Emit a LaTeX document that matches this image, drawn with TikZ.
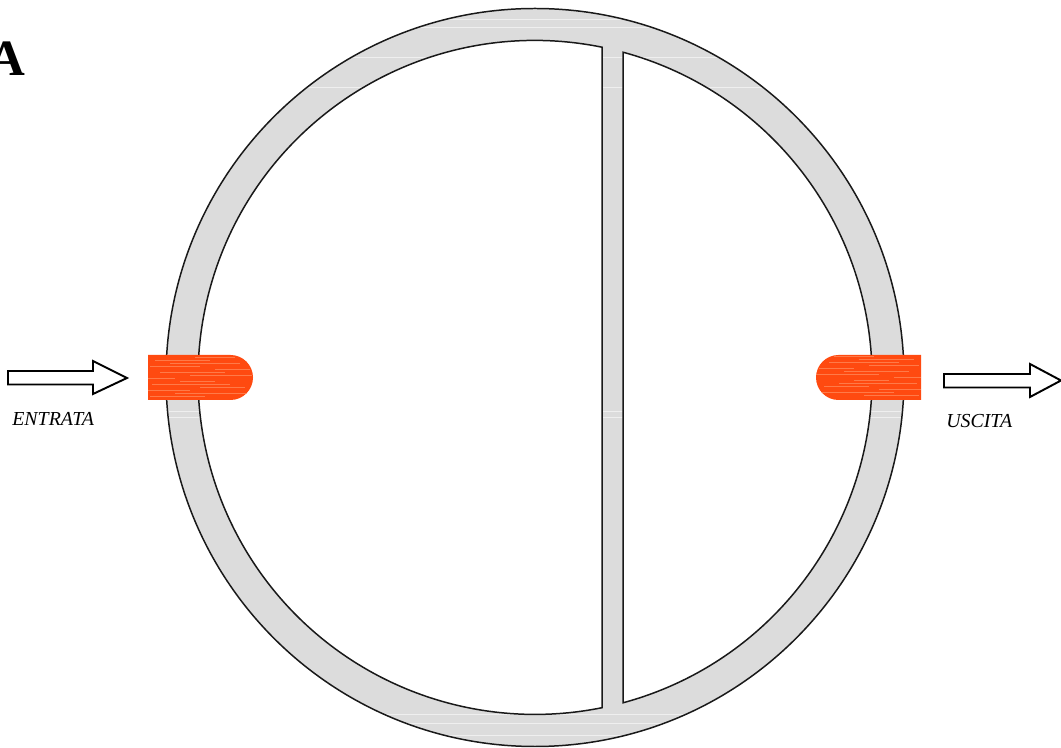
\documentclass[tikz,border=0pt]{standalone}
\usepackage{fontspec}
\setmainfont{Liberation Serif}
\definecolor{ringgray}{HTML}{DCDCDC}
\definecolor{plugorange}{HTML}{FF4A10}
\definecolor{plugstreak}{HTML}{FF7A48}
\tikzset{
  outline/.style={draw=black!90, line width=0.85pt},
  flowarrow/.style={draw=black, line width=1.1pt, fill=white, line join=miter},
  caption/.style={font=\fontsize{11.3}{13}\selectfont\itshape, inner sep=0pt, anchor=base west},
}
\newcommand{\plugstreaks}{%
  \foreach \ypos/\xa/\xb in {351/150/205,354/175/250,357/148/190,360/200/245,363/152/230,366/180/215,369/148/175,
      372/190/252,375/160/225,378/215/250,381/150/200,384/170/240,387/155/210,390/195/235}
    {\draw[plugstreak, line width=0.4pt] (\xa,\ypos) -- (\xb,\ypos);
     \draw[plugstreak, line width=0.4pt] (1069-\xb,\ypos+1) -- (1069-\xa,\ypos+1);}}
\begin{document}
\begin{tikzpicture}[x=0.02cm, y=0.02cm]
    \useasboundingbox (0,0) rectangle (1061,747);

    % --- the ring, with its faint brushed texture ---
    \fill[ringgray] (535,369.5) circle[radius=369];
    \begin{scope}
      \clip (535,369.5) circle[radius=369];
      \foreach \ypos in {12,24,33,330,336,660,690,720,728}
        \draw[white!55!ringgray, line width=0.5pt] (150,\ypos) -- (920,\ypos);
    \end{scope}
    \draw[outline] (535,369.5) circle[radius=369];

    % --- the two chambers either side of the divider ---
    \draw[outline, fill=white] (602,699.8)
      arc[start angle=78.53, end angle=281.47, radius=337] -- cycle;
    \draw[outline, fill=white] (623,44.2)
      arc[start angle=-74.86, end angle=74.86, radius=337] -- cycle;

    % --- orange plugs on the ring ---
    \begin{scope}
      \clip (148,392) -- (230.5,392) arc[start angle=90, end angle=-90, radius=22.5]
        -- (148,347) -- cycle
        (921,392) -- (838.5,392) arc[start angle=90, end angle=270, radius=22.5]
        -- (921,347) -- cycle;
      \fill[plugorange] (140,340) rectangle (930,400);
      \plugstreaks
    \end{scope}

    % --- in and out arrows ---
    \draw[flowarrow] (8,376) -- (93,376) -- (93,386) -- (127,369) -- (93,353)
      -- (93,362.5) -- (8,362.5) -- cycle;
    \draw[flowarrow] (944,373) -- (1030,373) -- (1030,383) -- (1061,366.5)
      -- (1030,350) -- (1030,359.5) -- (944,359.5) -- cycle;

    \node[caption] (entrata) at (12,321) {ENTRATA};
    \node[caption] (uscita) at (946,319) {USCITA};
    \node[inner sep=0pt, anchor=base east, font=\fontsize{29}{36}\selectfont\bfseries] (panel) at (26,671) {A};
\end{tikzpicture}
\end{document}
